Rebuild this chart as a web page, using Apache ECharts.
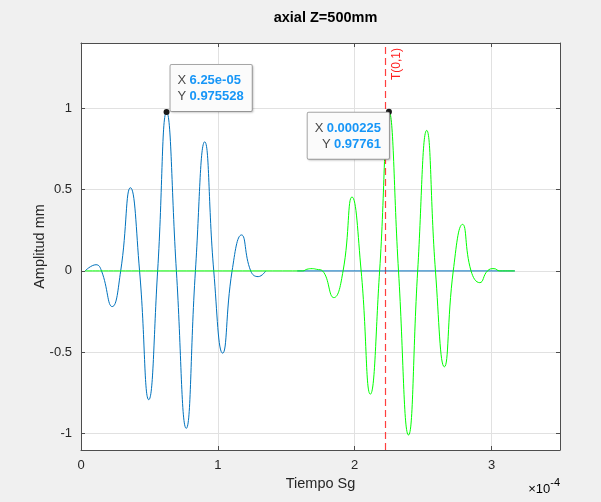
<!DOCTYPE html>
<html>
<head>
<meta charset="utf-8">
<script src="https://cdn.jsdelivr.net/npm/echarts@6/dist/echarts.min.js"></script>
<style>
html,body{margin:0;padding:0;background:#f0f0f0;}
#chart{width:601px;height:502px;}
</style>
</head>
<body>
<div id="chart"></div>
<script>
// ---- data (time in seconds, amplitude in mm) ----
const blueTime = [0.03e-4, 0.11e-4, 0.15e-4, 0.228e-4, 0.29e-4, 0.361e-4, 0.428e-4, 0.495e-4, 0.56e-4, 0.625e-4, 0.697e-4, 0.769e-4, 0.836e-4, 0.904e-4, 0.97e-4, 1.035e-4, 1.104e-4, 1.173e-4, 1.24e-4, 1.295e-4, 1.35e-4];
const blueAmp  = [0, 0.038, 0, -0.219, 0, 0.511, 0, -0.791, 0, 0.975528, 0, -0.967, 0, 0.793, 0, -0.505, 0, 0.221, 0, -0.035, 0];
const blueTailTime = [1.58e-4, 3.17e-4];
const blueTailAmp  = [0, 0];
const greenTime = [0.03e-4, 1.62e-4, 1.65e-4, 1.69e-4, 1.72e-4, 1.765e-4, 1.847e-4, 1.915e-4, 1.98e-4, 2.047e-4, 2.114e-4, 2.182e-4, 2.25e-4, 2.32e-4, 2.393e-4, 2.46e-4, 2.526e-4, 2.59e-4, 2.655e-4, 2.72e-4, 2.788e-4, 2.85e-4, 2.914e-4, 2.97e-4, 3.018e-4, 3.06e-4, 3.17e-4];
const greenAmp  = [0, 0, 0.01, 0.014, 0.01, 0, -0.164, 0, 0.454, 0, -0.757, 0, 0.97761, 0, -1.008, 0, 0.863, 0, -0.589, 0, 0.286, 0, -0.072, 0, 0.014, 0, 0];
const xTicks = [0, 1e-4, 2e-4, 3e-4];
const yTicks = [-1, -0.5, 0, 0.5, 1];
const xRange = [0, 3.5e-4];
const yRange = [-1.1, 1.4];
const markerTime = [2.225e-4, 2.225e-4];
const markerText = 'T(0,1)';
const tipX = [6.25e-5, 2.25e-4];
const tipY = [0.975528, 0.97761];
const tipXText = ['6.25e-05', '0.000225'];
const tipYText = ['0.975528', '0.97761'];

const zip = (a, b) => a.map((v, i) => [v, b[i]]);
const FONT = "'Liberation Sans', Arial, Helvetica, sans-serif";
const AX = '#4d4d4d';
const TXT = '#262626';
const RED = '#ff2a2a';

const chart = echarts.init(document.getElementById('chart'), null, {renderer: 'canvas'});

function tipLabel(i, pos, align, vAlign) {
  return {
    show: true,
    position: pos,
    align: align,
    verticalAlign: vAlign,
    backgroundColor: '#fbfbfb',
    borderColor: '#a8a8a8',
    borderWidth: 1,
    borderRadius: 1,
    shadowColor: 'rgba(0,0,0,0.15)',
    shadowBlur: 2,
    shadowOffsetX: 1,
    shadowOffsetY: 1,
    padding: [7, 8, 6, 7],
    lineHeight: 16.5,
    formatter: '{k|X} {v|' + tipXText[i] + '}\n{k|Y} {v|' + tipYText[i] + '}',
    rich: {
      k: {color: '#4a4a4a', fontSize: 13, fontFamily: FONT, lineHeight: 16.5},
      v: {color: '#1796f7', fontSize: 13, fontWeight: 'bold', fontFamily: FONT, lineHeight: 16.5}
    }
  };
}

const valueAxisCommon = {
  axisLine: {show: true, onZero: false, lineStyle: {color: AX, width: 1}},
};

chart.setOption({
  animation: false,
  backgroundColor: '#f0f0f0',
  textStyle: {fontFamily: FONT},
  title: {
    text: 'axial Z=500mm',
    left: 320.5,
    textAlign: 'center',
    top: 5,
    textStyle: {fontSize: 14.5, fontWeight: 'bold', color: '#000', fontFamily: FONT}
  },
  grid: {left: 81, right: 41, top: 43, bottom: 52, show: true, backgroundColor: '#ffffff', borderWidth: 0},
  xAxis: [{
    type: 'value', min: xRange[0], max: xRange[1], position: 'bottom',
    ...valueAxisCommon,
    axisTick: {show: true, inside: true, length: 4, lineStyle: {color: AX}, customValues: xTicks},
    axisLabel: {customValues: xTicks, color: TXT, fontSize: 13, margin: 9, fontFamily: FONT,
      formatter: v => String(Math.round(v * 1e4))},
    splitLine: {show: true, lineStyle: {color: '#e1e1e1', width: 1}},
    name: 'Tiempo Sg', nameLocation: 'middle', nameGap: 26, nameMoveOverlap: false,
    nameTextStyle: {fontSize: 14.5, color: TXT, fontFamily: FONT}
  }, {
    type: 'value', min: xRange[0], max: xRange[1], position: 'top',
    ...valueAxisCommon,
    axisTick: {show: true, inside: true, length: 4, lineStyle: {color: AX}, customValues: xTicks},
    axisLabel: {show: false},
    splitLine: {show: false}
  }],
  yAxis: [{
    type: 'value', min: yRange[0], max: yRange[1], position: 'left',
    ...valueAxisCommon,
    axisTick: {show: true, inside: true, length: 4, lineStyle: {color: AX}, customValues: yTicks},
    axisLabel: {customValues: yTicks, color: TXT, fontSize: 13, margin: 9, fontFamily: FONT,
      formatter: v => String(v)},
    splitLine: {show: true, lineStyle: {color: '#e1e1e1', width: 1}},
    name: 'Amplitud mm', nameLocation: 'middle', nameGap: 34, nameMoveOverlap: false,
    nameTextStyle: {fontSize: 14.5, color: TXT, fontFamily: FONT}
  }, {
    type: 'value', min: yRange[0], max: yRange[1], position: 'right',
    ...valueAxisCommon,
    axisTick: {show: true, inside: true, length: 4, lineStyle: {color: AX}, customValues: yTicks},
    axisLabel: {show: false},
    splitLine: {show: false}
  }],
  graphic: [{
    type: 'text',
    right: 41,
    top: 477,
    style: {
      text: '{a|×10}{b|-4}',
      rich: {
        a: {fontSize: 13, color: TXT, fontFamily: FONT, verticalAlign: 'bottom', padding: [6, 0, 0, 0]},
        b: {fontSize: 11, color: TXT, fontFamily: FONT, verticalAlign: 'top'}
      }
    }
  }],
  series: [{
    type: 'line',
    name: 'marker',
    data: zip(markerTime, yRange),
    showSymbol: false,
    silent: true,
    itemStyle: {color: RED},
    lineStyle: {color: RED, type: [7, 4], width: 1.2, opacity: 0.9},
    z: 1,
    markPoint: {
      silent: true,
      symbol: 'circle', symbolSize: 0,
      data: [{coord: [markerTime[1], yRange[1]]}],
      label: {show: true, formatter: markerText, rotate: 90, position: [5, 5],
        align: 'right', verticalAlign: 'top', color: '#ff2020', fontSize: 12, fontFamily: FONT}
    }
  }, {
    type: 'line',
    name: 'excitation',
    data: zip(blueTime, blueAmp),
    smooth: 0.5,
    showSymbol: false,
    lineStyle: {color: '#0072bd', width: 1},
    z: 2,
    markPoint: {
      silent: true,
      symbol: 'circle', symbolSize: 6,
      itemStyle: {color: '#1a1a1a'},
      data: [{coord: [tipX[0], tipY[0]], label: tipLabel(0, [7, 2], 'left', 'bottom')}]
    }
  }, {
    type: 'line',
    name: 'excitation tail',
    data: zip(blueTailTime, blueTailAmp),
    showSymbol: false,
    lineStyle: {color: '#0072bd', width: 1},
    z: 2
  }, {
    type: 'line',
    name: 'response',
    data: zip(greenTime, greenAmp),
    smooth: 0.5,
    showSymbol: false,
    lineStyle: {color: '#00ff00', width: 1},
    z: 3,
    markPoint: {
      silent: true,
      symbol: 'circle', symbolSize: 6,
      itemStyle: {color: '#1a1a1a'},
      data: [{coord: [tipX[1], tipY[1]], label: tipLabel(1, [3, 4], 'right', 'top')}]
    }
  }]
});
</script>
</body>
</html>
